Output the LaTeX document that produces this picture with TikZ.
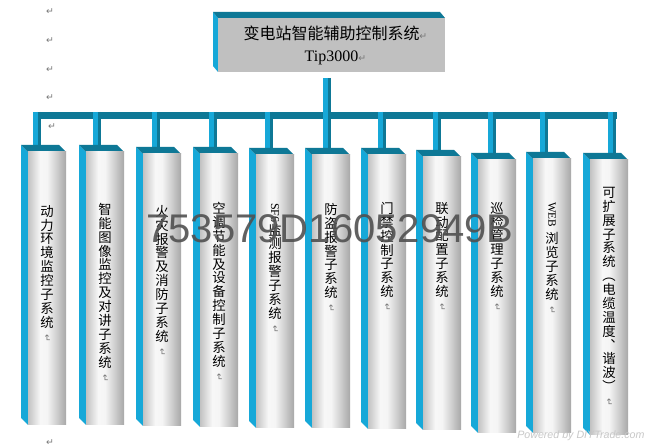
\documentclass[tikz,border=0pt]{standalone}
\usepackage{fontspec}
\usepackage{graphicx}
\setmainfont{Liberation Serif}
\newfontfamily\cjk{Noto Sans CJK SC}
\newfontfamily\dvs{DejaVu Sans}
\newfontfamily\lsans{Liberation Sans}
\usetikzlibrary{calc}
\pgfdeclarelayer{bg}
\pgfsetlayers{bg,main}
\definecolor{sidecyan}{RGB}{22,168,216}
\definecolor{topteal}{RGB}{14,120,150}
\definecolor{boxgray}{RGB}{192,192,192}
\definecolor{markgray}{RGB}{120,120,120}
\definecolor{wmgray}{RGB}{80,80,80}
\definecolor{pwgray}{RGB}{200,200,200}
\pgfdeclarehorizontalshading{colshade}{100bp}{rgb(0bp)=(0.76,0.76,0.76); rgb(25bp)=(0.76,0.76,0.76); rgb(41bp)=(0.97,0.97,0.97); rgb(50bp)=(0.96,0.96,0.96); rgb(75bp)=(0.66,0.66,0.66); rgb(100bp)=(0.66,0.66,0.66)}
\newcommand\pmark{{\dvs\color{markgray}\fontsize{7}{7}\selectfont ↵}}
\newcommand\vmark{\rotatebox[origin=c]{-90}{\pmark}}
\newcommand\drawpillar[4]{%
  \fill[sideface] (#2-7,#3-7) -- (#2,#3) -- (#2,#4) -- (#2-7,#4-7) -- cycle;
  \fill[topface] (#2-7,#3-7) -- (#2+31,#3-7) -- (#2+38,#3) -- (#2,#3) -- cycle;
  \node[pillarface, minimum height={(#4-#3)*0.75pt}] (#1) at (#2+19,{(#3+#4)/2}) {};
}
\newcommand\drawdrop[2]{%
  \draw[dropdark] (#1) -- (#1 |- #2.north);
  \draw[droplight] (#1) -- (#1 |- #2.north);
}
\tikzset{
  sideface/.style={fill=sidecyan},
  topface/.style={fill=topteal},
  pillarface/.style={shade, shading=colshade, draw=none, inner sep=0pt, outer sep=0pt, minimum width=28.5pt},
  dropdark/.style={draw=topteal, line width=6pt},
  droplight/.style={draw=sidecyan, line width=3.75pt, transform canvas={xshift=-1.125pt}},
  vtext/.style={font=\cjk\fontsize{10}{10.4}\selectfont, align=center, inner sep=0pt, anchor=north, text=black},
  topbox/.style={fill=boxgray, inner sep=0pt, minimum width=170.25pt, minimum height=40.5pt, align=center, font=\fontsize{12}{16.5}\selectfont},
  marknode/.style={inner sep=0pt}
}
\begin{document}
\begin{tikzpicture}[x=0.75pt,y=-0.75pt]
\begin{pgfonlayer}{bg}
\fill[white] (0,0) rectangle (651,448);
\end{pgfonlayer}
\useasboundingbox (0,0) rectangle (651,448);

% paragraph marks on the left
\node[marknode] (m1) at (50,12) {\pmark};
\node[marknode] (m2) at (50,41) {\pmark};
\node[marknode] (m3) at (50,70) {\pmark};
\node[marknode] (m4) at (50,98) {\pmark};
\node[marknode] (m5) at (52,127) {\pmark};
\node[marknode] (m6) at (50,443) {\pmark};

% pillars
\drawpillar{c1}{28}{152}{425}
\drawpillar{c2}{86}{152}{425}
\drawpillar{c3}{143}{154}{426}
\drawpillar{c4}{200}{154}{427}
\drawpillar{c5}{256}{155}{428}
\drawpillar{c6}{312}{155}{428}
\drawpillar{c7}{368}{155}{429}
\drawpillar{c8}{423}{157}{430}
\drawpillar{c9}{478}{160}{433}
\drawpillar{c10}{533}{159}{433}
\drawpillar{c11}{590}{160}{435}

% top box
\fill[sideface] (213,12) -- (218,18) -- (218,72) -- (213,66) -- cycle;
\fill[topface] (213,12) -- (440,12) -- (445,18) -- (218,18) -- cycle;
\node[topbox] (top) at (331.5,45) {{\cjk 变电站智能辅助控制系统}\rlap{\pmark}\\Tip3000\rlap{\pmark}};

% bar coordinates
\coordinate (b1) at (37,112);
\coordinate (b2) at (97,112);
\coordinate (b3) at (156,112);
\coordinate (b4) at (213,112);
\coordinate (b5) at (269,112);
\coordinate (b7) at (382,112);
\coordinate (b8) at (437,112);
\coordinate (b9) at (492,112);
\coordinate (b10) at (544,112);
\coordinate (b11) at (612,112);
\coordinate (stemtop) at (327,78);

% connectors, behind the pillars
\begin{pgfonlayer}{bg}
\fill[topface] ($(b1)+(-4,0)$) rectangle ($(b11)+(5,7)$);
\drawdrop{stemtop}{c6}
\drawdrop{b1}{c1}
\drawdrop{b2}{c2}
\drawdrop{b3}{c3}
\drawdrop{b4}{c4}
\drawdrop{b5}{c5}
\drawdrop{b7}{c7}
\drawdrop{b8}{c8}
\drawdrop{b9}{c9}
\drawdrop{b10}{c10}
\drawdrop{b11}{c11}
\end{pgfonlayer}

% column texts
\node[vtext] (t1) at (47,205) {动\\力\\环\\境\\监\\控\\子\\系\\统\\\vmark};
\node[vtext] (t2) at (105,203) {智\\能\\图\\像\\监\\控\\及\\对\\讲\\子\\系\\统\\\vmark};
\node[vtext] (t3) at (162,205) {火\\灾\\报\\警\\及\\消\\防\\子\\系\\统\\\vmark};
\node[vtext] (t4) at (219,202) {空\\调\\节\\能\\及\\设\\备\\控\\制\\子\\系\\统\\\vmark};
\node[vtext] (t5) at (275,203) {\rotatebox[origin=c]{-90}{\rmfamily\fontsize{9}{9}\selectfont SF6}\\监\\测\\报\\警\\子\\系\\统\\\vmark};
\node[vtext] (t6) at (331,203) {防\\盗\\报\\警\\子\\系\\统\\\vmark};
\node[vtext] (t7) at (387,202) {门\\禁\\控\\制\\子\\系\\统\\\vmark};
\node[vtext] (t8) at (442,202) {联\\动\\配\\置\\子\\系\\统\\\vmark};
\node[vtext] (t9) at (497,202) {巡\\检\\管\\理\\子\\系\\统\\\vmark};
\node[vtext] (t10) at (552,202) {\rotatebox[origin=c]{-90}{\rmfamily\fontsize{8.5}{8.5}\selectfont WEB}\\[3pt]浏\\览\\子\\系\\统\\\vmark};
\node[vtext] (t11) at (609,187) {可\\扩\\展\\子\\系\\统\\︵\\电\\缆\\温\\度\\︑\\谐\\波\\︶\\\vmark};

% watermarks
\node[inner sep=0pt, anchor=base, text=wmgray, opacity=0.9, font=\lsans\fontsize{30}{30}\selectfont] (wm) at (330,243) {753579D16052949B};
\node[inner sep=0pt, anchor=base west, text=pwgray, font=\lsans\itshape\fontsize{8}{8}\selectfont] (pw) at (517,439) {Powered by DIYTrade.com};
\end{tikzpicture}
\end{document}
